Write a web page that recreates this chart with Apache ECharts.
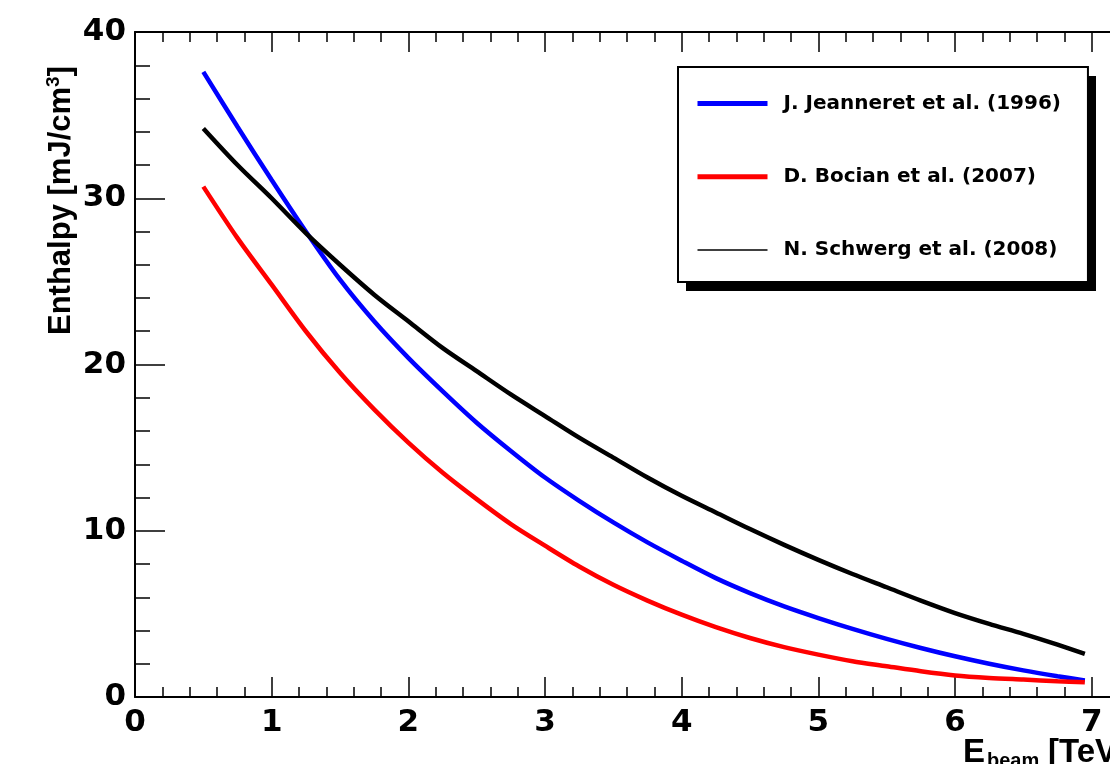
<!DOCTYPE html>
<html>
<head>
<meta charset="utf-8">
<script src="https://cdn.jsdelivr.net/npm/echarts@6/dist/echarts.min.js"></script>
<style>
html,body{margin:0;padding:0;background:#fff;}
#chart{width:1110px;height:764px;}
</style>
</head>
<body>
<div id="chart"></div>
<script>
// Beam energy [TeV]
var energy = [0.5, 0.75, 1.0, 1.25, 1.5, 1.75, 2.0, 2.25, 2.5, 2.75, 3.0, 3.25, 3.5, 3.75,
              4.0, 4.25, 4.5, 4.75, 5.0, 5.25, 5.5, 5.75, 6.0, 6.25, 6.5, 6.75, 6.95];
// Enthalpy [mJ/cm^3]
var jeanneret = [37.6, 34.3, 31.1, 28.0, 25.1, 22.6, 20.4, 18.4, 16.5, 14.8, 13.2, 11.8, 10.5, 9.3,
                 8.2, 7.15, 6.25, 5.45, 4.75, 4.1, 3.5, 2.95, 2.45, 2.0, 1.6, 1.25, 1.0];
var bocian    = [30.7, 27.6, 24.8, 22.0, 19.5, 17.3, 15.3, 13.5, 11.9, 10.4, 9.1, 7.85, 6.75, 5.8,
                 4.95, 4.2, 3.55, 3.0, 2.55, 2.15, 1.85, 1.55, 1.3, 1.15, 1.05, 0.95, 0.88];
var schwerg   = [34.2, 32.0, 30.0, 27.9, 26.0, 24.2, 22.6, 21.0, 19.6, 18.2, 16.9, 15.6, 14.4, 13.2,
                 12.1, 11.1, 10.1, 9.15, 8.25, 7.4, 6.6, 5.8, 5.05, 4.4, 3.8, 3.15, 2.6];
var seriesNames = ['J. Jeanneret et al. (1996)', 'D. Bocian et al. (2007)', 'N. Schwerg et al. (2008)'];
var yTitle = 'Enthalpy [mJ/cm';
var xTitle = ['E', 'beam', '[TeV]'];

function pairs(xs, ys){ return xs.map(function(x,i){ return [x, ys[i]]; }); }

var chart = echarts.init(document.getElementById('chart'), null, {renderer:'canvas'});
var tickFont = {fontFamily:'DejaVu Sans', fontWeight:'bold', fontSize:31, color:'#000'};
var axisCommon = {
  type:'value', min:0, max:7.2, interval:1,
  axisLine:{show:true, onZero:false, lineStyle:{color:'#000', width:2}},
  axisTick:{show:true, inside:true, length:20, lineStyle:{color:'#000', width:1.5}},
  minorTick:{show:true, splitNumber:5, length:10, lineStyle:{color:'#000', width:1.5}},
  splitLine:{show:false}, minorSplitLine:{show:false}
};
var option = {
  animation:false,
  backgroundColor:'#fff',
  grid:{left:135, top:32, bottom:67, right:-9, containLabel:false, outerBoundsMode:'none'},
  xAxis:[
    Object.assign({}, axisCommon, {position:'bottom',
      axisLabel:Object.assign({margin:10, showMaxLabel:false}, tickFont)}),
    Object.assign({}, axisCommon, {position:'top', axisLabel:{show:false}})
  ],
  yAxis:[{
    type:'value', min:0, max:40, interval:10, position:'left',
    axisLine:{show:true, onZero:false, lineStyle:{color:'#000', width:2}},
    axisTick:{show:true, inside:true, length:30, lineStyle:{color:'#000', width:1.5}},
    minorTick:{show:true, splitNumber:5, length:15, lineStyle:{color:'#000', width:1.5}},
    splitLine:{show:false},
    axisLabel:Object.assign({margin:9}, tickFont)
  }],
  legend:{
    orient:'vertical', left:678, top:67, z:5,
    padding:[26.5, 27, 22, 17],
    itemWidth:70, itemHeight:20, itemGap:53.3,
    backgroundColor:'#fff', borderColor:'#000', borderWidth:2,
    itemStyle:{opacity:0},
    textStyle:{fontFamily:'DejaVu Sans', fontWeight:'bold', fontSize:20, color:'#000', padding:[0,0,0,11]},
    data:[
      {name:seriesNames[0], itemStyle:{opacity:0}, lineStyle:{width:5, color:'#0000ff'}},
      {name:seriesNames[1], itemStyle:{opacity:0}, lineStyle:{width:5, color:'#ff0000'}},
      {name:seriesNames[2], itemStyle:{opacity:0}, lineStyle:{width:1.5, color:'#000000'}}
    ]
  },
  series:[
    {name:seriesNames[0], type:'line', data:pairs(energy, jeanneret), smooth:0.3, symbol:'none',
     lineStyle:{color:'#0000ff', width:4.5}, itemStyle:{color:'#0000ff'}, z:2},
    {name:seriesNames[1], type:'line', data:pairs(energy, bocian), smooth:0.3, symbol:'none',
     lineStyle:{color:'#ff0000', width:4.5}, itemStyle:{color:'#ff0000'}, z:2},
    {name:seriesNames[2], type:'line', data:pairs(energy, schwerg), smooth:0.3, symbol:'none',
     lineStyle:{color:'#000000', width:4.5}, itemStyle:{color:'#000000'}, z:3}
  ],
  graphic:[
    {type:'rect', z:1, shape:{x:686, y:76, width:410, height:215}, style:{fill:'#000'}},
    {type:'text', x:77, y:335, rotation:Math.PI/2,
     style:{text:'{a|' + yTitle + '}{s|3}{a|]}',
       textAlign:'left', textVerticalAlign:'bottom',
       rich:{
         a:{fontFamily:'Liberation Sans', fontWeight:'bold', fontSize:31, fill:'#000', verticalAlign:'bottom'},
         s:{fontFamily:'Liberation Sans', fontWeight:'bold', fontSize:19, fill:'#000', verticalAlign:'top', padding:[0,0,14,0]}
       }}},
    {type:'text', x:963, y:769,
     style:{text:xTitle[0], fontFamily:'Liberation Sans', fontWeight:'bold', fontSize:33, fill:'#000', textAlign:'left', textVerticalAlign:'bottom'}},
    {type:'text', x:987, y:771,
     style:{text:xTitle[1], fontFamily:'Liberation Sans', fontWeight:'bold', fontSize:20, fill:'#000', textAlign:'left', textVerticalAlign:'bottom'}},
    {type:'text', x:1048, y:769,
     style:{text:xTitle[2], fontFamily:'Liberation Sans', fontWeight:'bold', fontSize:33, fill:'#000', textAlign:'left', textVerticalAlign:'bottom'}}
  ]
};
chart.setOption(option);
</script>
</body>
</html>
